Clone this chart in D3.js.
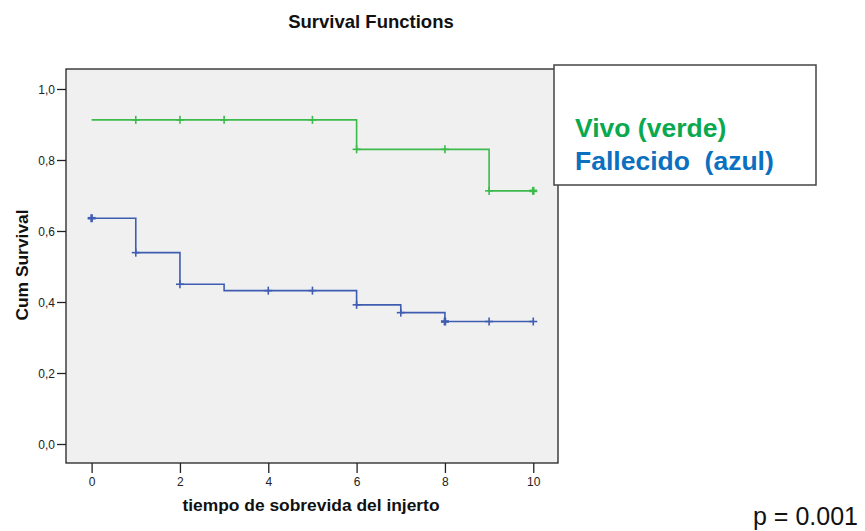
<!DOCTYPE html>
<html>
<head>
<meta charset="utf-8">
<script src="https://cdn.jsdelivr.net/npm/d3@7"></script>
<style>
  html, body { margin: 0; padding: 0; background: #ffffff; }
  svg { display: block; }
  text { font-family: Arial, "Liberation Sans", Helvetica, sans-serif; }
</style>
</head>
<body>
<svg id="chart" width="865" height="531"></svg>
<script>
// Kaplan-Meier estimates: step start times and survival level from each time on
const vivoTimes = [0, 6, 9, 10];
const vivoSurvival = [0.913, 0.830, 0.713, 0.713];
// censored observation times (repeated entries stack on top of each other)
const vivoCensored = [1, 2, 3, 5, 6, 8, 9, 10, 10];

const fallecidoTimes = [0, 1, 2, 3, 6, 7, 8, 10];
const fallecidoSurvival = [0.636, 0.539, 0.450, 0.432, 0.392, 0.370, 0.345, 0.345];
const fallecidoCensored = [0, 0, 1, 2, 4, 5, 6, 7, 8, 8, 9, 10];

const xTicks = [0, 2, 4, 6, 8, 10];
const yTicks = [0, 0.2, 0.4, 0.6, 0.8, 1.0];

const chartTitle = "Survival Functions";
const xTitle = "tiempo de sobrevida del injerto";
const yTitle = "Cum Survival";
const legendLabels = ["Vivo (verde)", "Fallecido  (azul)"];
const pValueText = "p = 0.001";

const svg = d3.select("#chart");

const plot = { left: 66, right: 558, top: 69, bottom: 463 };

const x = d3.scaleLinear().domain([-0.58, 10.56]).range([plot.left, plot.right]);
const y = d3.scaleLinear().domain([-0.0535, 1.0563]).range([plot.bottom, plot.top]);

const colors = { vivo: "#3cba4c", fallecido: "#3f5db0" };

// plot area
svg.append("rect")
  .attr("x", plot.left).attr("y", plot.top)
  .attr("width", plot.right - plot.left).attr("height", plot.bottom - plot.top)
  .attr("fill", "#f0f0f0")
  .attr("stroke", "#222").attr("stroke-width", 1.3);

// axes
const comma = d => d3.format(".1f")(d).replace(".", ",");
const yAxis = d3.axisLeft(y).tickValues(yTicks).tickFormat(comma).tickSize(9).tickPadding(2);
const xAxis = d3.axisBottom(x).tickValues(xTicks).tickFormat(d3.format("d")).tickSize(10).tickPadding(4);

const gy = svg.append("g").attr("transform", `translate(${plot.left},0)`).call(yAxis);
const gx = svg.append("g").attr("transform", `translate(0,${plot.bottom})`).call(xAxis);
[gx, gy].forEach(g => {
  g.select(".domain").remove();
  g.selectAll(".tick line").attr("stroke", "#222").attr("stroke-width", 1.3);
  g.selectAll(".tick text").attr("fill", "#222").style("font-size", "12px");
});
gy.selectAll(".tick text").attr("dy", "0.36em");

// survival step curves with censoring marks
function drawCurve(times, surv, censored, color) {
  const pts = times.map((t, i) => [t, surv[i]]);
  const line = d3.line().x(d => x(d[0])).y(d => y(d[1])).curve(d3.curveStepAfter);
  svg.append("path").datum(pts)
    .attr("d", line)
    .attr("fill", "none")
    .attr("stroke", color).attr("stroke-width", 1.6);

  const levelAt = t => {
    let v = surv[0];
    times.forEach((tt, i) => { if (tt <= t) v = surv[i]; });
    return v;
  };
  const counts = d3.rollup(censored, v => v.length, d => d);
  const half = 4;
  counts.forEach((n, t) => {
    const cx = x(t), cy = y(levelAt(t));
    const w = n > 1 ? 2.6 : 1.6;
    const g = svg.append("g").attr("stroke", color).attr("stroke-width", w);
    g.append("line").attr("x1", cx - half).attr("x2", cx + half).attr("y1", cy).attr("y2", cy);
    g.append("line").attr("x1", cx).attr("x2", cx).attr("y1", cy - half).attr("y2", cy + half);
  });
}
drawCurve(vivoTimes, vivoSurvival, vivoCensored, colors.vivo);
drawCurve(fallecidoTimes, fallecidoSurvival, fallecidoCensored, colors.fallecido);

// titles
svg.append("text")
  .attr("x", 371).attr("y", 28)
  .attr("text-anchor", "middle")
  .style("font-size", "18.5px").style("font-weight", "bold").attr("fill", "#111")
  .text(chartTitle);

svg.append("text")
  .attr("x", 311).attr("y", 511)
  .attr("text-anchor", "middle")
  .style("font-size", "17.4px").style("font-weight", "bold").attr("fill", "#111")
  .text(xTitle);

svg.append("text")
  .attr("transform", "translate(28,265) rotate(-90)")
  .attr("text-anchor", "middle")
  .style("font-size", "17.4px").style("font-weight", "bold").attr("fill", "#111")
  .text(yTitle);

// legend box
const legend = svg.append("g");
legend.append("rect")
  .attr("x", 554).attr("y", 65).attr("width", 262).attr("height", 120)
  .attr("fill", "#ffffff").attr("stroke", "#444").attr("stroke-width", 1.5);
const legendColors = ["#0aa84f", "#0b70c0"];
legendLabels.forEach((label, i) => {
  legend.append("text")
    .attr("x", 575).attr("y", 137 + i * 33)
    .attr("fill", legendColors[i])
    .style("font-size", "26.5px").style("font-weight", "bold")
    .style("white-space", "pre")
    .text(label);
});

// log-rank p value
svg.append("text")
  .attr("x", 753).attr("y", 525)
  .attr("fill", "#111")
  .style("font-size", "25px")
  .text(pValueText);
</script>
</body>
</html>
